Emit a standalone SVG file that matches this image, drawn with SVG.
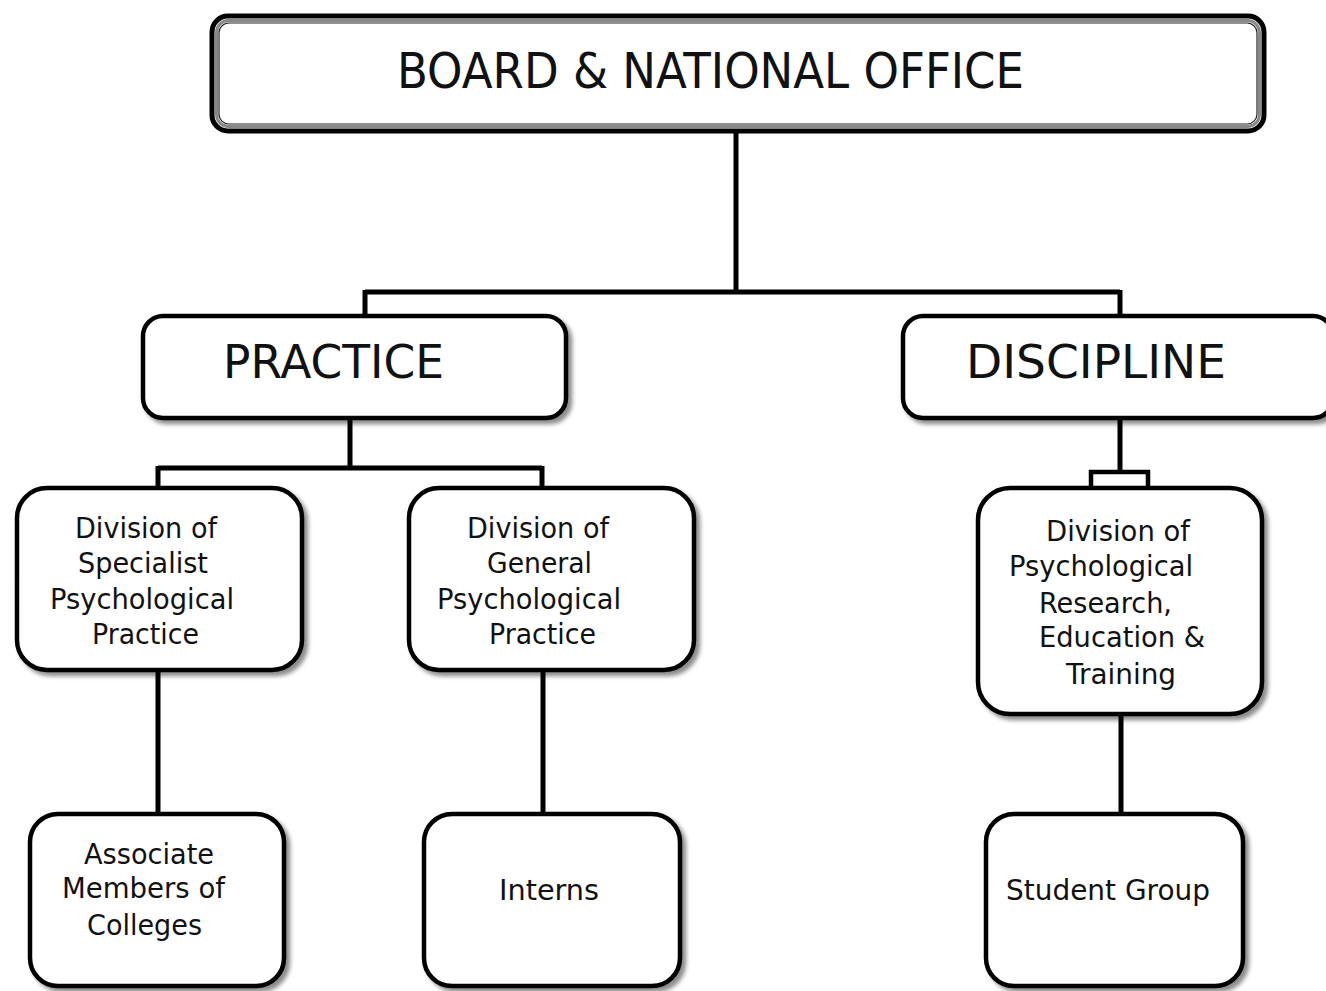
<svg xmlns="http://www.w3.org/2000/svg" width="1326" height="991" viewBox="0 0 1326 991">
<defs>
<filter id="sh" x="-10%" y="-10%" width="125%" height="125%">
<feDropShadow dx="4" dy="4" stdDeviation="2" flood-color="#000" flood-opacity="0.45"/>
</filter>
<style>
.box{fill:#fff;stroke:#000;stroke-width:4.5;filter:url(#sh)}
.ln{fill:none;stroke:#000;stroke-width:5;stroke-linejoin:miter}
text{font-family:"DejaVu Sans","Liberation Sans",sans-serif;fill:#111}
.big{font-size:50px}
.mid{font-size:46px}
.sm{font-size:28px}
</style>
</defs>
<rect width="1326" height="991" fill="#fff"/>
<g id="connectors">
<path class="ln" d="M736 133 V292 M365 292 H1120 M365 290 V318 M1120 290 V318"/>
<path class="ln" d="M350 418 V468 M158 468 H542 M158 466 V490 M542 466 V490"/>
<path class="ln" d="M1120 418 V472"/>
<rect x="1091" y="472" width="57" height="18" fill="#fff" stroke="#000" stroke-width="4.5"/>
<path class="ln" d="M158 670 V816 M543 670 V816 M1121 714 V816"/>
</g>
<g id="board">
<rect x="212" y="16" width="1052" height="115" rx="16" fill="#fff" stroke="#000" stroke-width="5"/>
<rect x="216.5" y="20.5" width="1043" height="106" rx="12" fill="none" stroke="#888" stroke-width="3"/>
<rect x="219" y="23" width="1038" height="101" rx="10" fill="none" stroke="#222" stroke-width="1.2"/>
<text class="big" x="397" y="88" textLength="627" lengthAdjust="spacingAndGlyphs">BOARD &amp; NATIONAL OFFICE</text>
</g>
<g id="practice">
<rect class="box" x="143" y="316" width="423" height="102" rx="20"/>
<text class="mid" x="223" y="378" textLength="221" lengthAdjust="spacingAndGlyphs">PRACTICE</text>
</g>
<g id="discipline">
<rect class="box" x="903" y="316" width="430" height="102" rx="20"/>
<text class="mid" x="966" y="378" textLength="260" lengthAdjust="spacingAndGlyphs">DISCIPLINE</text>
</g>
<g id="specialist">
<rect class="box" x="17" y="488" width="285" height="182" rx="30"/>
<text class="sm" x="75" y="538" textLength="142" lengthAdjust="spacingAndGlyphs">Division of</text>
<text class="sm" x="78" y="573" textLength="130" lengthAdjust="spacingAndGlyphs">Specialist</text>
<text class="sm" x="50" y="609" textLength="184" lengthAdjust="spacingAndGlyphs">Psychological</text>
<text class="sm" x="92" y="644" textLength="107" lengthAdjust="spacingAndGlyphs">Practice</text>
</g>
<g id="general">
<rect class="box" x="409" y="488" width="285" height="182" rx="30"/>
<text class="sm" x="467" y="538" textLength="142" lengthAdjust="spacingAndGlyphs">Division of</text>
<text class="sm" x="487" y="573" textLength="105" lengthAdjust="spacingAndGlyphs">General</text>
<text class="sm" x="437" y="609" textLength="184" lengthAdjust="spacingAndGlyphs">Psychological</text>
<text class="sm" x="489" y="644" textLength="107" lengthAdjust="spacingAndGlyphs">Practice</text>
</g>
<g id="research">
<rect class="box" x="978" y="488" width="284" height="226" rx="32"/>
<text class="sm" x="1046" y="541" textLength="144" lengthAdjust="spacingAndGlyphs">Division of</text>
<text class="sm" x="1009" y="576" textLength="184" lengthAdjust="spacingAndGlyphs">Psychological</text>
<text class="sm" x="1039" y="613" textLength="133" lengthAdjust="spacingAndGlyphs">Research,</text>
<text class="sm" x="1039" y="647" textLength="166" lengthAdjust="spacingAndGlyphs">Education &amp;</text>
<text class="sm" x="1066" y="684" textLength="110" lengthAdjust="spacingAndGlyphs">Training</text>
</g>
<g id="associate">
<rect class="box" x="30" y="814" width="254" height="172" rx="28"/>
<text class="sm" x="84" y="864" textLength="130" lengthAdjust="spacingAndGlyphs">Associate</text>
<text class="sm" x="62" y="898" textLength="163" lengthAdjust="spacingAndGlyphs">Members of</text>
<text class="sm" x="87" y="935" textLength="115" lengthAdjust="spacingAndGlyphs">Colleges</text>
</g>
<g id="interns">
<rect class="box" x="424" y="814" width="256" height="172" rx="28"/>
<text class="sm" x="499" y="900" textLength="100" lengthAdjust="spacingAndGlyphs">Interns</text>
</g>
<g id="student">
<rect class="box" x="986" y="814" width="257" height="172" rx="28"/>
<text class="sm" x="1006" y="900" textLength="204" lengthAdjust="spacingAndGlyphs">Student Group</text>
</g>
</svg>
